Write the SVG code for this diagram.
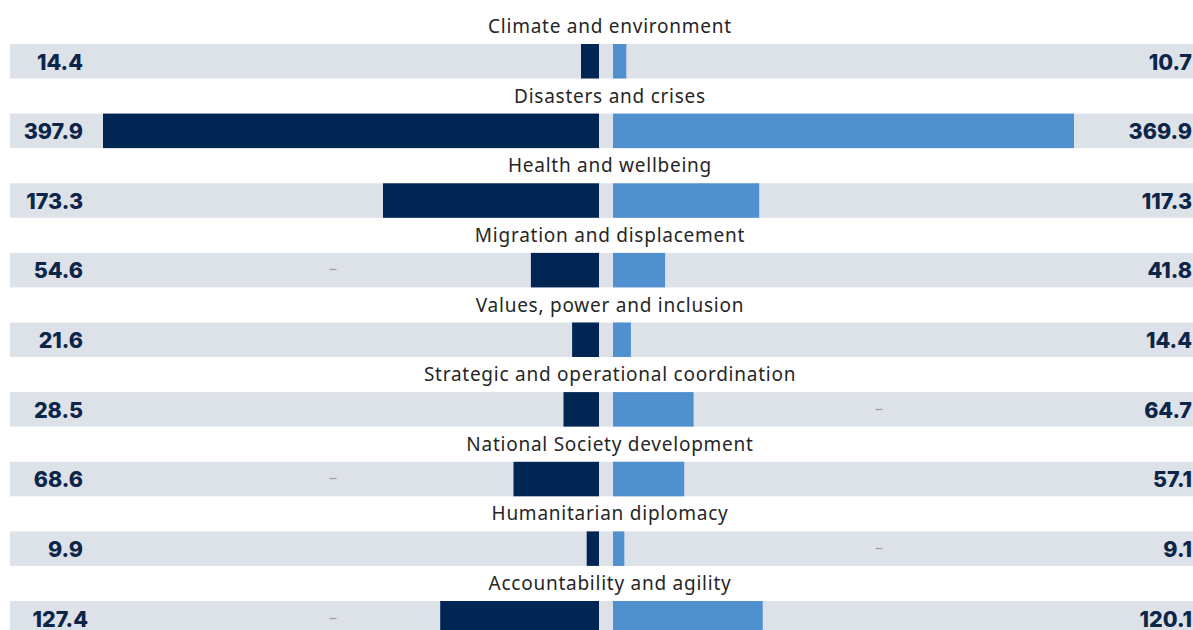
<svg xmlns="http://www.w3.org/2000/svg" width="1193" height="630" viewBox="0 0 1193 630">
<style>
.bg{fill:#dde1e8}
.l{fill:#022654}
.r{fill:#5190cf}
.t{font-family:"Noto Sans","Open Sans",sans-serif;font-size:19px;letter-spacing:0.75px;fill:#262626;text-anchor:middle}
.v{font-family:Inter,"Open Sans",sans-serif;font-weight:800;font-size:21.5px;fill:#0c2548;text-anchor:end}
.d{stroke:#9a9ca3;stroke-width:1.2}
</style>
<rect width="1193" height="630" fill="#ffffff"/>
<g id="row1">
<text class="t" x="610" y="33">Climate and environment</text>
<rect class="bg" x="10" y="44" width="1183" height="34.5"/>
<rect class="l" x="581" y="44" width="18" height="34.5"/>
<rect class="r" x="613" y="44" width="13.3" height="34.5"/>
<text class="v" x="83" y="69.5">14.4</text>
<text class="v" x="1192" y="69.5">10.7</text>
</g>
<g id="row2">
<text class="t" x="610" y="102.6">Disasters and crises</text>
<rect class="bg" x="10" y="113.6" width="1183" height="34.5"/>
<rect class="l" x="103" y="113.6" width="496" height="34.5"/>
<rect class="r" x="613" y="113.6" width="461" height="34.5"/>
<text class="v" x="83" y="139.1">397.9</text>
<text class="v" x="1192" y="139.1">369.9</text>
</g>
<g id="row3">
<text class="t" x="610" y="172.3">Health and wellbeing</text>
<rect class="bg" x="10" y="183.3" width="1183" height="34.5"/>
<rect class="l" x="383" y="183.3" width="216" height="34.5"/>
<rect class="r" x="613" y="183.3" width="146.2" height="34.5"/>
<text class="v" x="83" y="208.8">173.3</text>
<text class="v" x="1192" y="208.8">117.3</text>
</g>
<g id="row4">
<text class="t" x="610" y="241.9">Migration and displacement</text>
<rect class="bg" x="10" y="252.9" width="1183" height="34.5"/>
<rect class="l" x="530.9" y="252.9" width="68.1" height="34.5"/>
<rect class="r" x="613" y="252.9" width="52.1" height="34.5"/>
<line class="d" x1="329.5" y1="269.5" x2="336.5" y2="269.5"/>
<text class="v" x="83" y="278.4">54.6</text>
<text class="v" x="1192" y="278.4">41.8</text>
</g>
<g id="row5">
<text class="t" x="610" y="311.5">Values, power and inclusion</text>
<rect class="bg" x="10" y="322.5" width="1183" height="34.5"/>
<rect class="l" x="572.1" y="322.5" width="26.9" height="34.5"/>
<rect class="r" x="613" y="322.5" width="17.9" height="34.5"/>
<text class="v" x="83" y="348">21.6</text>
<text class="v" x="1192" y="348">14.4</text>
</g>
<g id="row6">
<text class="t" x="610" y="381.1">Strategic and operational coordination</text>
<rect class="bg" x="10" y="392.1" width="1183" height="34.5"/>
<rect class="l" x="563.5" y="392.1" width="35.5" height="34.5"/>
<rect class="r" x="613" y="392.1" width="80.6" height="34.5"/>
<line class="d" x1="875.5" y1="409.5" x2="882.5" y2="409.5"/>
<text class="v" x="83" y="417.6">28.5</text>
<text class="v" x="1192" y="417.6">64.7</text>
</g>
<g id="row7">
<text class="t" x="610" y="450.8">National Society development</text>
<rect class="bg" x="10" y="461.8" width="1183" height="34.5"/>
<rect class="l" x="513.5" y="461.8" width="85.5" height="34.5"/>
<rect class="r" x="613" y="461.8" width="71.2" height="34.5"/>
<line class="d" x1="329.5" y1="478.5" x2="336.5" y2="478.5"/>
<text class="v" x="83" y="487.3">68.6</text>
<text class="v" x="1192" y="487.3">57.1</text>
</g>
<g id="row8">
<text class="t" x="610" y="520.4">Humanitarian diplomacy</text>
<rect class="bg" x="10" y="531.4" width="1183" height="34.5"/>
<rect class="l" x="586.7" y="531.4" width="12.3" height="34.5"/>
<rect class="r" x="613" y="531.4" width="11.3" height="34.5"/>
<line class="d" x1="875.5" y1="548.5" x2="882.5" y2="548.5"/>
<text class="v" x="83" y="556.9">9.9</text>
<text class="v" x="1192" y="556.9">9.1</text>
</g>
<g id="row9">
<text class="t" x="610" y="590">Accountability and agility</text>
<rect class="bg" x="10" y="601" width="1183" height="34.5"/>
<rect class="l" x="440.2" y="601" width="158.8" height="34.5"/>
<rect class="r" x="613" y="601" width="149.7" height="34.5"/>
<line class="d" x1="329.5" y1="618.5" x2="336.5" y2="618.5"/>
<text class="v" x="88" y="626.5">127.4</text>
<text class="v" x="1192" y="626.5">120.1</text>
</g>
</svg>
